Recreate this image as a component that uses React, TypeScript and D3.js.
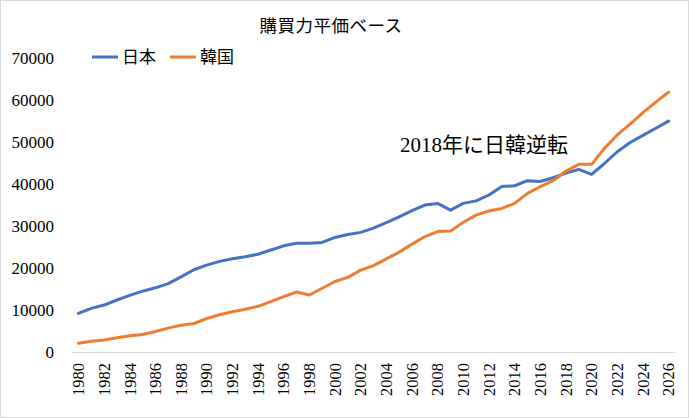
import React from "react";
import * as d3 from "d3";

const years: number[] = d3.range(1980, 2027);
const japan: number[] = [
  9300, 10500, 11300, 12500, 13600, 14600, 15400, 16400, 18000, 19700,
  20800, 21700, 22300, 22800, 23400, 24400, 25400, 26000, 26000, 26200,
  27400, 28100, 28600, 29600, 30900, 32300, 33800, 35100, 35500, 33900,
  35500, 36100, 37500, 39500, 39700, 40900, 40700, 41600, 42700, 43600,
  42400, 45000, 47800, 50000, 51700, 53400, 55100,
];
const korea: number[] = [
  2200, 2700, 3000, 3500, 4000, 4300, 5000, 5800, 6500, 6900,
  8100, 9000, 9700, 10300, 11000, 12100, 13300, 14400, 13700, 15300,
  16900, 17900, 19600, 20700, 22300, 23900, 25800, 27600, 28800, 28900,
  31000, 32700, 33700, 34300, 35500, 37900, 39500, 40900, 43200, 44800,
  44800, 48600, 51800, 54400, 57100, 59600, 62000,
];
const yTicks: number[] = [0, 10000, 20000, 30000, 40000, 50000, 60000, 70000];
const seriesNames = ["日本", "韓国"];
const titleText = "購買力平価ベース";
const noteYear = "2018";
const noteRest = "年に日韓逆転";

const W = 689;
const H = 418;
const colors = ["#4472C4", "#ED7D31"];
const cjk = "\"Noto Sans CJK JP\", sans-serif";
const serif = "\"Liberation Serif\", \"Times New Roman\", \"DejaVu Serif\", serif";

export default function App() {
  const x = d3.scaleBand<number>().domain(years).range([72, 675]);
  const cx = (yr: number) => (x(yr) as number) + x.bandwidth() / 2;
  const y = d3.scaleLinear().domain([0, 70000]).range([352.5, 58.5]);
  const line = d3
    .line<number>()
    .x((_, i) => cx(years[i]))
    .y((v) => y(v));
  const series = [japan, korea];

  return (
    <svg
      width={W}
      height={H}
      style={{ position: "absolute", left: 0, top: 0, background: "#fff" }}
    >
      <rect x={0.5} y={0.5} width={W - 1} height={H - 1} fill="#fff" stroke="#d9d9d9" />
      <text x={331} y={32} textAnchor="middle" style={{ fontFamily: cjk, fontSize: 17.5 }} fill="#000" letterSpacing={0.5}>
        {titleText}
      </text>
      {seriesNames.map((n, i) => (
        <g key={n} transform={`translate(${92 + i * 78},57)`}>
          <line x1={0} x2={26} y1={0} y2={0} stroke={colors[i]} strokeWidth={3} />
          <text x={30} y={0} dy="0.36em" style={{ fontFamily: cjk, fontSize: 17 }} fill="#000">
            {n}
          </text>
        </g>
      ))}
      {yTicks.map((t) => (
        <text key={t} x={54} y={y(t)} dy="0.35em" textAnchor="end" style={{ fontFamily: serif, fontSize: 17 }} fill="#000">
          {t}
        </text>
      ))}
      <line x1={72} x2={675} y1={352.5} y2={352.5} stroke="#d9d9d9" strokeWidth={1} />
      {years
        .filter((yr) => yr % 2 === 0)
        .map((yr) => (
          <text
            key={yr}
            transform={`translate(${cx(yr)},363) rotate(-90)`}
            dy="0.35em"
            textAnchor="end"
            style={{ fontFamily: serif, fontSize: 16.5 }}
            fill="#000"
          >
            {yr}
          </text>
        ))}
      {series.map((s, i) => (
        <path key={i} d={line(s) as string} fill="none" stroke={colors[i]} strokeWidth={3} strokeLinejoin="round" strokeLinecap="round" />
      ))}
      <text x={400} y={152} fill="#000" style={{ fontSize: 21 }}>
        <tspan style={{ fontFamily: serif }}>{noteYear}</tspan>
        <tspan style={{ fontFamily: cjk }}>{noteRest}</tspan>
      </text>
    </svg>
  );
}
